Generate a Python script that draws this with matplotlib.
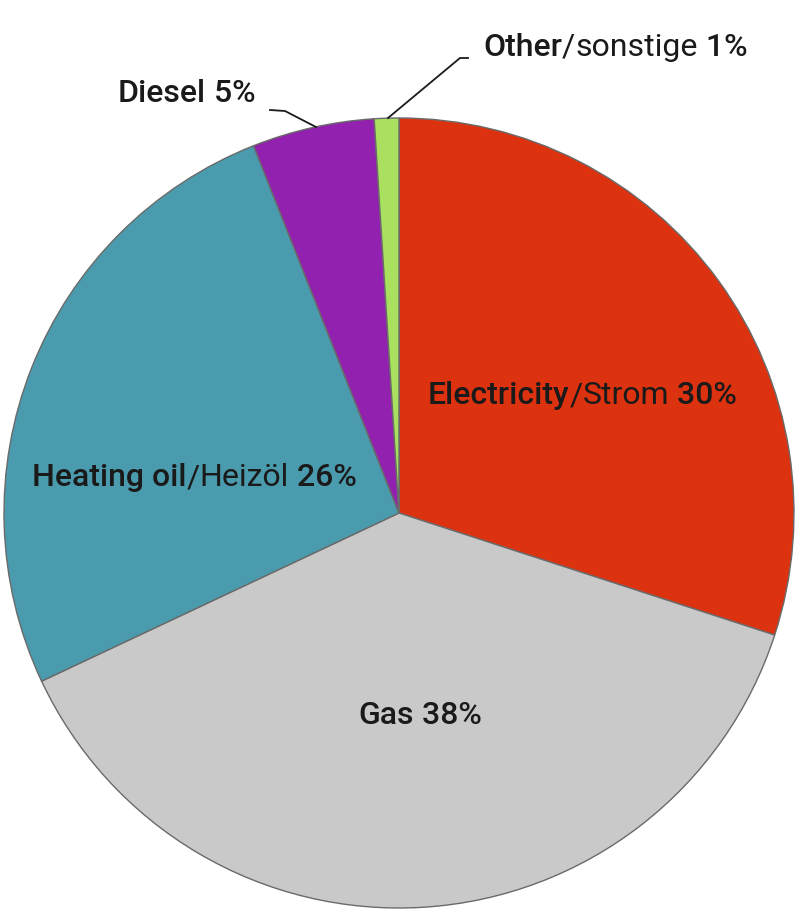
import matplotlib
matplotlib.use("Agg")
import matplotlib.pyplot as plt
from matplotlib.offsetbox import TextArea, HPacker, AnnotationBbox

# Shares of energy sources (clockwise from 12 o'clock)
names_en = ["Electricity", "Gas", "Heating oil", "Diesel", "Other"]
names_de = ["Strom", "", "Heizöl", "", "sonstige"]
shares = [30, 38, 26, 5, 1]
colors = ["#DC3210", "#C9C9C9", "#4B9BAE", "#9121AE", "#A9E060"]

W, H = 800, 917
cx, cy, R = 399, 513, 395  # pie centre / radius in pixels (from top)

fig = plt.figure(figsize=(W / 100, H / 100), dpi=100)
ax = fig.add_axes([(cx - R) / W, (H - cy - R) / H, 2 * R / W, 2 * R / H])
ax.pie(shares, colors=colors, startangle=90, counterclock=False,
       wedgeprops=dict(edgecolor="#6a6a6a", linewidth=1.0))
ax.set_xlim(-1, 1)
ax.set_ylim(-1, 1)
ax.set_aspect("equal")
ax.axis("off")

FONT = "Roboto"
SIZE = 23


def label(parts, x, y):
    # parts: list of (text, weight); x,y pixel from top-left
    boxes = [TextArea(t, textprops=dict(family=FONT, size=SIZE, weight=w, color="#1a1a1a"))
             for t, w in parts]
    pack = HPacker(children=boxes, pad=0, sep=0, align="baseline")
    ab = AnnotationBbox(pack, (x, H - y), xycoords="figure pixels",
                        box_alignment=(0, 0.5), frameon=False, pad=0)
    fig.add_artist(ab)


def parts_for(i):
    p = [(names_en[i], "medium")]
    if names_de[i]:
        p.append(("/", "normal"))
        p.append((names_de[i], "normal"))
    p.append((" %d%%" % shares[i], "medium"))
    return p


label(parts_for(0), 428, 396)
label(parts_for(1), 358, 715)
label(parts_for(2), 32, 478)
label(parts_for(3), 118, 93)
label(parts_for(4), 483, 47)

# leader lines (figure pixels)
def leader(pts):
    xs = [p[0] for p in pts]
    ys = [H - p[1] for p in pts]
    fig.add_artist(plt.Line2D(xs, ys, transform=None, color="#1a1a1a", linewidth=1.3))

leader([(316, 127), (285, 111), (270, 110)])
leader([(388, 118), (460, 58), (468, 58)])

fig.savefig("out.png", dpi=100)
